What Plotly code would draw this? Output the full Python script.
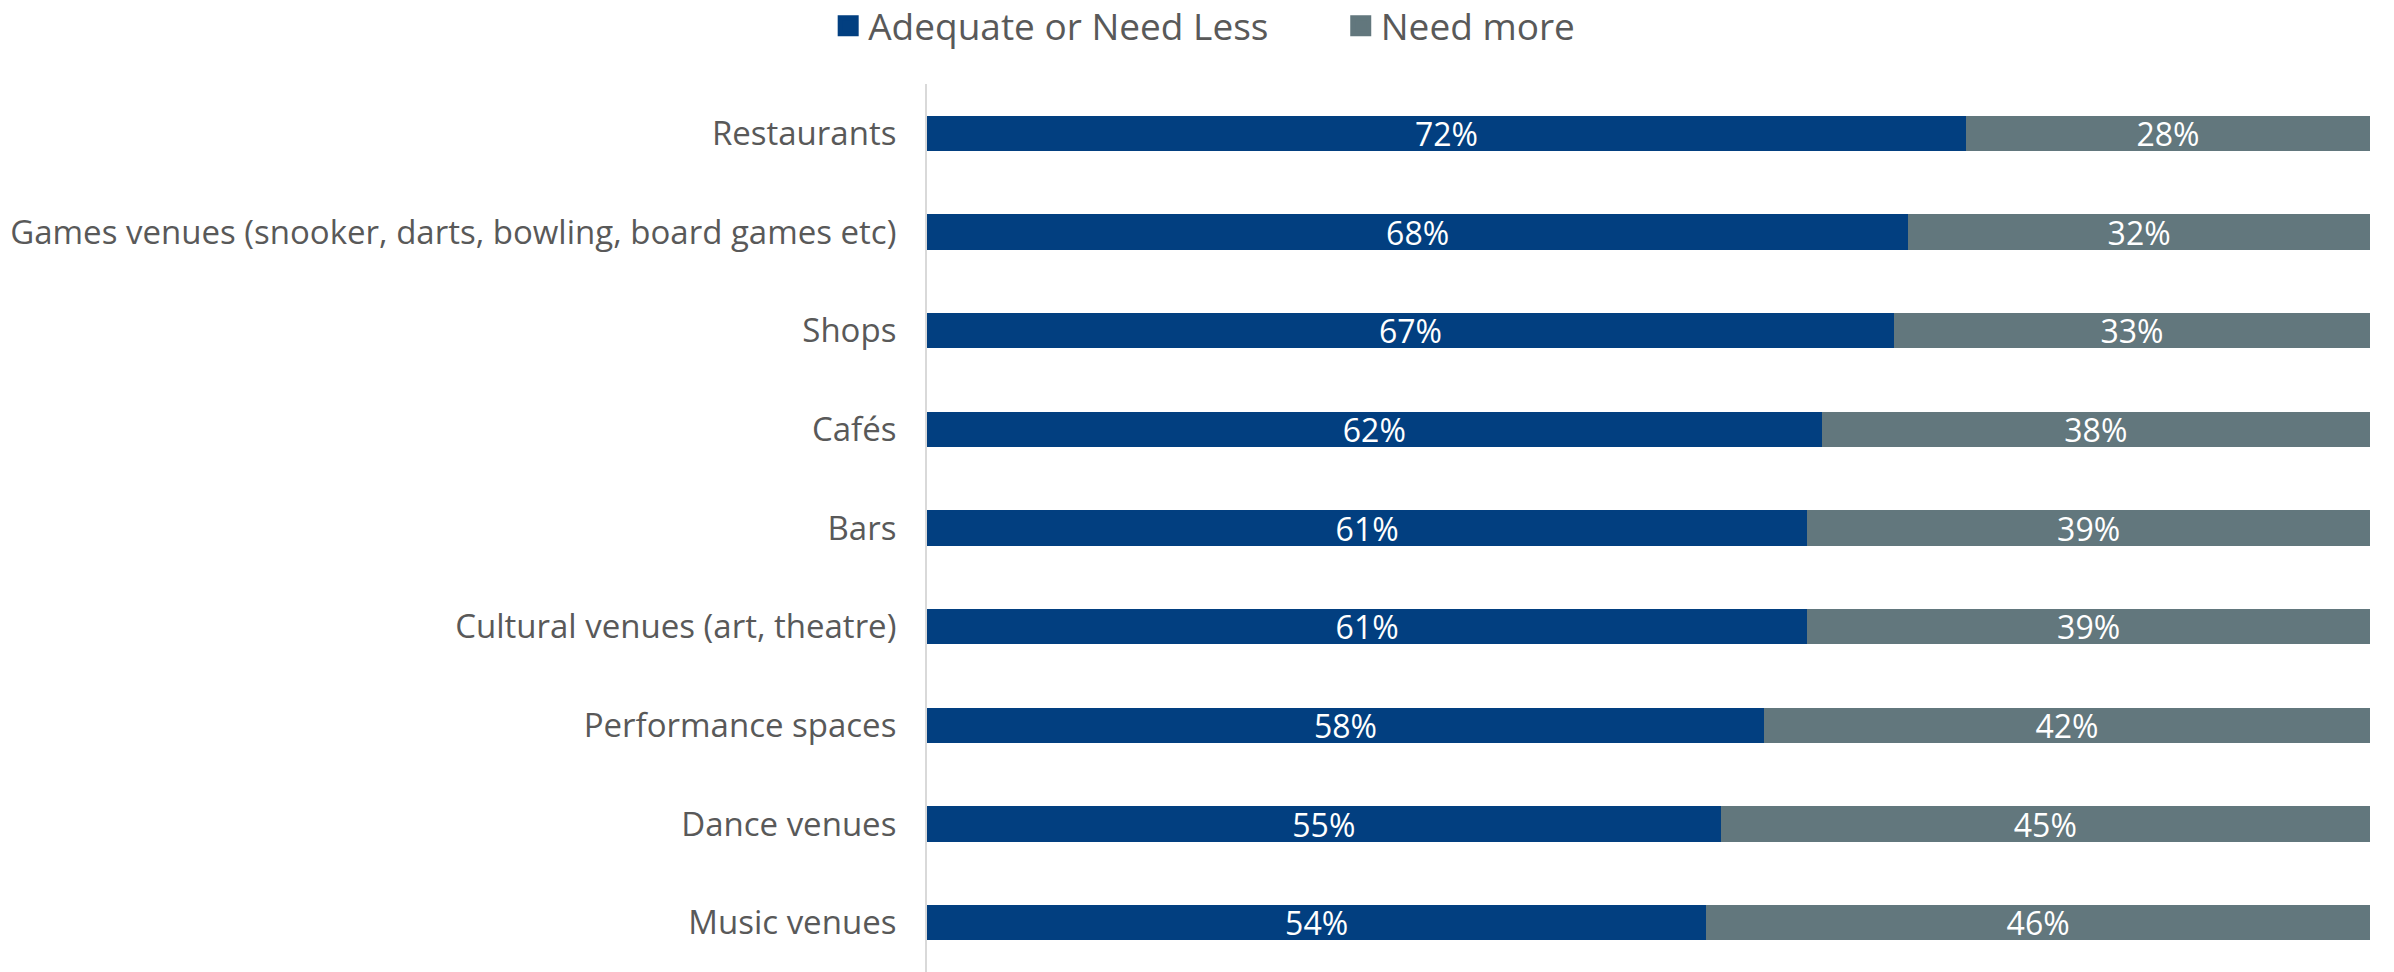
import plotly.graph_objects as go

categories = [
    "Restaurants",
    "Games venues (snooker, darts, bowling, board games etc)",
    "Shops",
    "Cafés",
    "Bars",
    "Cultural venues (art, theatre)",
    "Performance spaces",
    "Dance venues",
    "Music venues",
]
adequate = [72, 68, 67, 62, 61, 61, 58, 55, 54]
need_more = [28, 32, 33, 38, 39, 39, 42, 45, 46]
series_names = ["Adequate or Need Less", "Need more"]

BLUE = "#023F80"
GREY = "#62777D"
TEXT = "#595959"
FONT = "Open Sans"

fig = go.Figure()
for name, vals, col in zip(series_names, [adequate, need_more], [BLUE, GREY]):
    fig.add_bar(
        y=categories, x=vals, orientation="h", name=name, showlegend=False,
        marker=dict(color=col, line=dict(width=0)),
        text=[f"{v}%" for v in vals], textposition="inside", insidetextanchor="middle",
        textfont=dict(color="white", size=32, family=FONT),
    )

# legend entries with larger square swatches; padding separates the two entries
legend_pad = ["\u00a0" * 7, ""]
for name, col, pad in zip(series_names, [BLUE, GREY], legend_pad):
    fig.add_scatter(
        x=[None], y=[None], mode="markers", name=name + pad,
        marker=dict(symbol="square", size=16, color=col, line=dict(width=5, color=col)),
    )

fig.update_layout(
    width=2394, height=972,
    barmode="stack", bargap=0.64,
    plot_bgcolor="white", paper_bgcolor="white",
    margin=dict(l=927, r=24, t=84, b=0),
    font=dict(family=FONT, color=TEXT, size=33),
    uniformtext=dict(mode="show", minsize=32),
    legend=dict(
        orientation="h", xref="container", x=0.503, xanchor="center",
        yref="container", y=0.973, yanchor="middle",
        font=dict(size=37, color=TEXT, family=FONT),
        itemwidth=30, traceorder="normal",
    ),
    xaxis=dict(range=[0, 100], visible=False, showgrid=False),
    yaxis=dict(
        autorange="reversed", showgrid=False, showline=True,
        linecolor="#D9D9D9", linewidth=2, ticks="", ticklen=0,
        tickfont=dict(size=33, color=TEXT, family=FONT),
        ticklabelstandoff=22,
    ),
)

fig.write_html("out.html")
